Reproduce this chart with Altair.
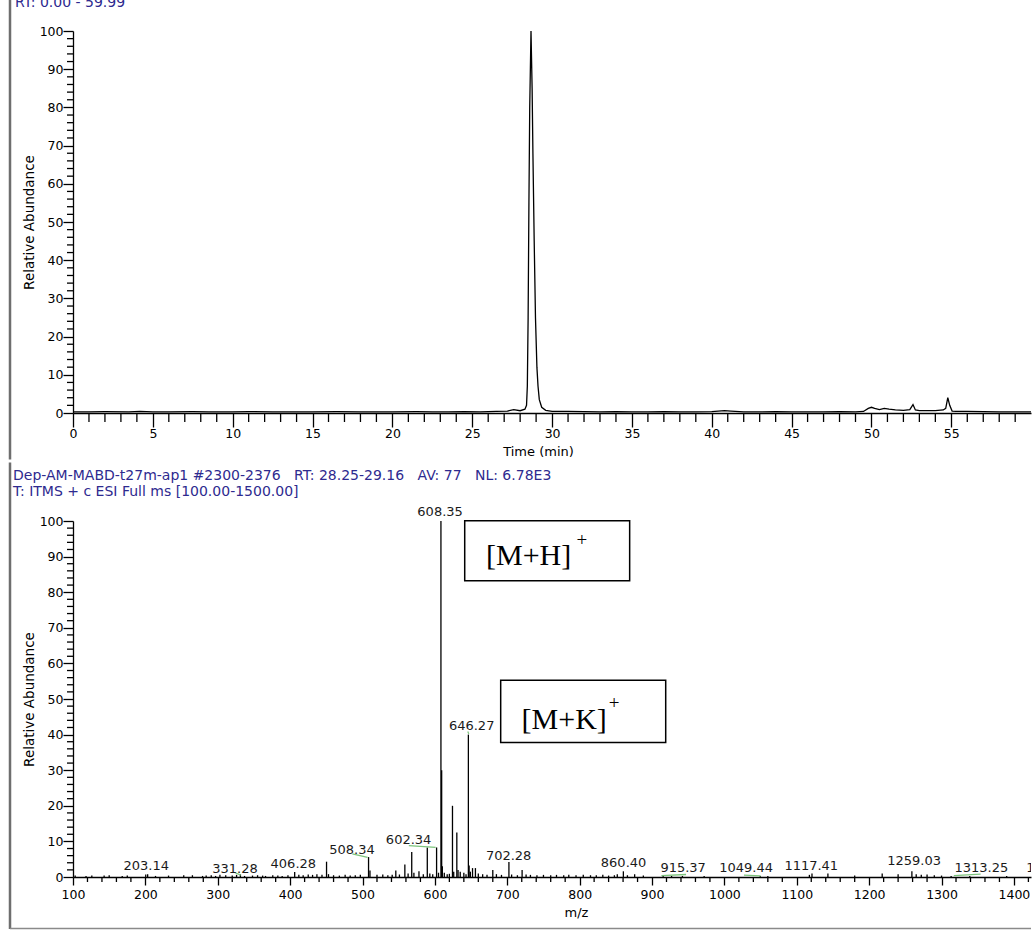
import altair as alt
import pandas as pd

# ---------------- Chromatogram (top panel) ----------------
rt_time = [0, 1.0, 2.0, 3.5, 4.2, 5, 6, 7.5, 8.5, 10, 11, 12.5, 14, 15, 16.5, 18, 19, 20,
           21.5, 22.5, 23.5, 24.5, 25.5, 26.5, 27.2, 27.6, 28.0, 28.3, 28.4, 28.45, 28.5,
           28.55, 28.6, 28.68, 28.75, 28.8, 28.88, 28.96, 29.05, 29.12, 29.2, 29.35, 29.6,
           30.0, 31, 32, 33, 34, 35, 36, 37, 38, 39, 40, 40.8, 41.2, 42, 43, 44, 45, 46, 47,
           48, 49, 49.5, 49.8, 50.0, 50.2, 50.5, 50.8, 51.1, 51.5, 52, 52.4, 52.6, 52.75,
           53, 53.5, 54, 54.5, 54.65, 54.78, 54.9, 55.05, 55.3, 56, 57, 58, 59, 59.99]
rt_abund = [0.3, 0.3, 0.35, 0.3, 0.4, 0.3, 0.3, 0.35, 0.3, 0.3, 0.35, 0.3, 0.3, 0.3, 0.35,
            0.3, 0.3, 0.3, 0.35, 0.3, 0.3, 0.35, 0.3, 0.4, 0.5, 0.9, 0.6, 1.0, 2.0, 7.0, 25,
            55, 80, 100, 85, 68, 45, 25, 12, 7, 3.5, 1.5, 0.7,
            0.45, 0.4, 0.35, 0.3, 0.35, 0.3, 0.3, 0.35, 0.3, 0.3, 0.35, 0.6, 0.5, 0.3, 0.3,
            0.35, 0.3, 0.3, 0.3, 0.35, 0.3, 0.4, 1.2, 1.5, 1.2, 0.9, 1.2, 1.0, 0.8, 0.7,
            0.9, 2.2, 0.8, 0.6, 0.6, 0.6, 0.8, 1.2, 4.0, 2.0, 0.5, 0.4, 0.4, 0.35, 0.3, 0.3,
            0.3]
rt_major_ticks = [0, 5, 10, 15, 20, 25, 30, 35, 40, 45, 50, 55]
rt_minor_ticks = [t for t in range(0, 60) if t % 5 != 0]
abund_major_ticks = [0, 10, 20, 30, 40, 50, 60, 70, 80, 90, 100]
abund_minor_ticks = [a for a in range(0, 101, 2) if a % 10 != 0]

# ---------------- Mass spectrum (bottom panel) ----------------
ms_mz = [103, 118, 126, 143, 150, 168, 175, 200.5, 203.14, 214, 232, 253, 265, 279, 284,
         291, 297, 303, 311, 320, 326, 331.28, 337, 348, 355, 362, 366, 376, 383, 389, 397,
         406.28, 412, 418, 425, 431, 437, 444, 450.3, 453, 460, 468, 476, 483, 490, 497,
         508.34, 510.3, 520, 528, 535, 541, 546, 551, 558.5, 563, 568, 571, 578, 584, 589.5,
         593, 597, 602.34, 605, 608.35, 609.35, 610.3, 613, 617, 620, 624.3, 626, 630.3,
         632, 635, 640, 643, 646.27, 647.3, 649, 652, 656, 660, 666, 672, 680, 685, 692,
         702.28, 706, 714, 720.5, 726, 732, 741, 750, 760, 768, 778, 785, 795, 805, 815,
         823, 832, 840, 848, 852, 860.40, 866, 876, 888, 915.37, 927, 942, 972, 1049.44,
         1060, 1117.41, 1121, 1143, 1180, 1218, 1240, 1259.03, 1265, 1272, 1280, 1290,
         1300, 1313.25, 1339, 1390]
ms_abund = [0.4, 0.3, 0.4, 0.4, 0.5, 0.3, 0.4, 0.7, 0.8, 0.3, 0.4, 0.5, 0.5, 0.3, 0.4,
            0.5, 0.3, 0.6, 0.5, 0.4, 0.6, 0.8, 0.3, 0.4, 0.5, 0.4, 0.3, 0.5, 0.4, 0.3, 0.5,
            1.4, 0.6, 0.5, 0.7, 0.6, 0.8, 0.6, 4.3, 0.8, 0.5, 0.4, 0.6, 0.4, 0.5, 0.6,
            5.6, 1.8, 0.6, 0.7, 0.5, 0.6, 1.8, 0.7, 3.5, 1.0, 7.0, 1.2, 1.6, 0.8, 8.3,
            1.0, 0.8, 8.3, 1.2, 100, 30, 3.0, 1.2, 0.8, 0.9, 20, 1.5, 12.5,
            2.0, 1.5, 1.2, 0.8, 40, 3.2, 1.5, 2.5, 2.5, 1.0, 0.8, 0.6, 2.0, 0.8, 0.6,
            4.2, 0.7, 0.5, 2.0, 0.7, 0.6, 0.5, 0.6, 0.5, 0.6, 0.5, 0.6, 0.5, 0.6, 0.5,
            0.5, 0.6, 0.4, 0.5, 0.8, 1.6, 0.5, 0.8, 0.4, 0.4, 0.3, 0.3, 0.3, 0.3,
            0.3, 0.6, 1.0, 1.0, 0.4, 1.0, 0.8, 1.6, 0.8, 0.6, 0.7, 0.5,
            0.4, 0.3, 0.3, 0.3]
mz_major_ticks = [100, 200, 300, 400, 500, 600, 700, 800, 900, 1000, 1100, 1200, 1300, 1400]
mz_minor_ticks = [m for m in range(100, 1424, 20) if m % 100 != 0]

peak_labels = ["608.35", "646.27", "602.34", "508.34", "406.28", "331.28", "203.14",
               "702.28", "860.40", "915.37", "1049.44", "1117.41", "1259.03", "1313.25"]
peak_label_mz = [607.2, 650.8, 563.7, 485.5, 404.4, 323.8, 201.2, 701.9, 860.7, 943,
                 1030, 1120, 1262, 1355]
peak_label_abund = [101.5, 41.4, 9.4, 6.6, 2.4, 1.0, 2.1, 4.9, 2.7, 1.5, 1.5, 2.1, 3.5, 1.5]
edge_label = ["1447.30"]
edge_label_mz = [1454]
edge_label_abund = [1.5]

conn_x1 = [323.8, 486, 564, 645.5, 913, 1027, 1317]
conn_y1 = [1.2, 6.5, 8.8, 40.9, 0.4, 0.5, 0.4]
conn_x2 = [332, 507, 601, 646.8, 947, 1050, 1354]
conn_y2 = [0.5, 5.5, 8.3, 40.2, 0.7, 0.3, 0.8]

ion_labels = ["[M+H]", "[M+K]"]
ion_box_mz1 = [641.2, 690.9]
ion_box_mz2 = [869.1, 918.9]
ion_box_ab1 = [100.1, 55.3]
ion_box_ab2 = [83.2, 37.8]
ion_text_mz = [670.6, 719.8]
ion_text_ab = [87.6, 41.6]
ion_sup_mz = [803.0, 847.5]
ion_sup_ab = [93.0, 47.3]

header_top = "RT: 0.00 - 59.99"
SP = "\u00a0\u00a0\u00a0"
header_line1 = "Dep-AM-MABD-t27m-ap1 #2300-2376" + SP + "RT: 28.25-29.16" + SP + "AV: 77" + SP + "NL: 6.78E3"
header_line2 = "T: ITMS + c ESI Full ms [100.00-1500.00]"

# ---------------- styling ----------------
W = 958
H1 = 382
H2 = 356
FONT = "DejaVu Sans"
NAVY = "#2e2a8f"
FRAME = "#6e6e6e"


def axis_x(values, tick, title, title_x, pad):
    return alt.Axis(values=values, format="d", tickSize=tick, tickWidth=1.3,
                    tickColor="black", domainColor="black", domainWidth=1.3, labelFont=FONT,
                    labelFontSize=12.5, labelColor="black", labelPadding=pad,
                    labelFlush=False, labelOverlap=False, title=title, titleFont=FONT,
                    titleFontSize=13, titleFontWeight="normal", titleColor="black",
                    titlePadding=6, titleX=title_x, grid=False)


def axis_y(h):
    return alt.Axis(values=abund_major_ticks, format="d", tickSize=10, tickWidth=1.3,
                    tickColor="black", domainColor="black", domainWidth=1.3, labelFont=FONT,
                    labelFontSize=12.5, labelColor="black", labelPadding=0, labelFlush=False,
                    labelOverlap=False, title="Relative Abundance", titleFont=FONT,
                    titleFontSize=13.5, titleFontWeight="normal", titleColor="black",
                    titleX=-44, titleY=h / 2, titleBaseline="middle", titleAlign="center",
                    grid=False)


one = pd.DataFrame({"k": [0]})

# ---------- top panel ----------
df_rt = pd.DataFrame({"time": rt_time, "abund": rt_abund})
AX_T = axis_x(rt_major_ticks, 14, "Time (min)", 465, 0)
AY_T = axis_y(H1)
XT = dict(scale=alt.Scale(domain=[0, 59.99], nice=False, zero=False), axis=AX_T)
YT = dict(scale=alt.Scale(domain=[0, 100], nice=False), axis=AY_T)

top_line = alt.Chart(df_rt).mark_line(color="black", strokeWidth=1.3, clip=True).encode(
    x=alt.X("time:Q", **XT), y=alt.Y("abund:Q", **YT))
top_minor_x = alt.Chart(pd.DataFrame({"time": rt_minor_ticks})).mark_rule(
    color="black", strokeWidth=1.3).encode(
    x=alt.X("time:Q", **XT), y=alt.value(H1), y2=alt.value(H1 + 9))
top_minor_y = alt.Chart(pd.DataFrame({"abund": abund_minor_ticks})).mark_rule(
    color="black", strokeWidth=1.3).encode(
    y=alt.Y("abund:Q", **YT), x=alt.value(-6), x2=alt.value(0))
top_title = alt.Chart(pd.DataFrame({"s": [header_top]})).mark_text(
    align="left", baseline="alphabetic", font=FONT, fontSize=14, color=NAVY).encode(
    x=alt.value(-58), y=alt.value(-24), text="s:N")
top_frame = alt.Chart(one).mark_rule(color=FRAME, strokeWidth=2.5).encode(
    x=alt.value(-63), y=alt.value(-40), y2=alt.value(428.5))

top = alt.layer(top_line, top_minor_x, top_minor_y, top_title, top_frame).properties(
    width=W, height=H1)

# ---------- bottom panel ----------
df_ms = pd.DataFrame({"mz": ms_mz, "abund": ms_abund})
AX_B = axis_x(mz_major_ticks, 8, "m/z", 503, 3)
AY_B = axis_y(H2)
XB = dict(scale=alt.Scale(domain=[100, 1423.6], nice=False, zero=False), axis=AX_B)
YB = dict(scale=alt.Scale(domain=[0, 100], nice=False), axis=AY_B)

sticks = alt.Chart(df_ms).mark_rule(color="black", strokeWidth=1.3).encode(
    x=alt.X("mz:Q", **XB), y=alt.Y("abund:Q", **YB), y2=alt.datum(0))
bot_minor_x = alt.Chart(pd.DataFrame({"mz": mz_minor_ticks})).mark_rule(
    color="black", strokeWidth=1.3).encode(
    x=alt.X("mz:Q", **XB), y=alt.value(H2), y2=alt.value(H2 + 5))
bot_minor_y = alt.Chart(pd.DataFrame({"abund": abund_minor_ticks})).mark_rule(
    color="black", strokeWidth=1.3).encode(
    y=alt.Y("abund:Q", **YB), x=alt.value(-6), x2=alt.value(0))

connectors = alt.Chart(pd.DataFrame({"mz": conn_x1, "abund": conn_y1, "x2": conn_x2,
                                     "y2": conn_y2})).mark_rule(
    color="#7cc47c", strokeWidth=1.3).encode(
    x=alt.X("mz:Q", **XB), x2="x2:Q", y=alt.Y("abund:Q", **YB), y2="y2:Q")

labels = alt.Chart(pd.DataFrame({"lab": peak_labels, "mz": peak_label_mz,
                                 "abund": peak_label_abund})).mark_text(
    align="center", baseline="alphabetic", font=FONT, fontSize=13, color="#1a1a1a").encode(
    x=alt.X("mz:Q", **XB), y=alt.Y("abund:Q", **YB), text="lab:N")
edge_labels = alt.Chart(pd.DataFrame({"lab": edge_label, "mz": edge_label_mz,
                                      "abund": edge_label_abund})).mark_text(
    align="center", baseline="alphabetic", font=FONT, fontSize=13, color="#1a1a1a",
    clip=True).encode(
    x=alt.X("mz:Q", **XB), y=alt.Y("abund:Q", **YB), text="lab:N")

df_ion = pd.DataFrame({"lab": ion_labels, "mz": ion_box_mz1, "bx2": ion_box_mz2,
                       "abund": ion_box_ab1, "by2": ion_box_ab2})
df_ion_t = pd.DataFrame({"lab": ion_labels, "mz": ion_text_mz, "abund": ion_text_ab})
df_ion_s = pd.DataFrame({"lab": ["+", "+"], "mz": ion_sup_mz, "abund": ion_sup_ab})
boxes = alt.Chart(df_ion).mark_rect(fill="white", stroke="black", strokeWidth=1.5).encode(
    x=alt.X("mz:Q", **XB), x2="bx2:Q", y=alt.Y("abund:Q", **YB), y2="by2:Q")
ion_text = alt.Chart(df_ion_t).mark_text(
    align="left", baseline="alphabetic", font="Liberation Serif", fontSize=30,
    color="black").encode(x=alt.X("mz:Q", **XB), y=alt.Y("abund:Q", **YB), text="lab:N")
ion_sup = alt.Chart(df_ion_s).mark_text(
    align="center", baseline="alphabetic", font="Liberation Serif", fontSize=19,
    color="black").encode(x=alt.X("mz:Q", **XB), y=alt.Y("abund:Q", **YB), text="lab:N")

hdr1 = alt.Chart(pd.DataFrame({"s": [header_line1]})).mark_text(
    align="left", baseline="alphabetic", font=FONT, fontSize=14, color=NAVY).encode(
    x=alt.value(-60), y=alt.value(-41), text="s:N")
hdr2 = alt.Chart(pd.DataFrame({"s": [header_line2]})).mark_text(
    align="left", baseline="alphabetic", font=FONT, fontSize=14, color=NAVY).encode(
    x=alt.value(-60), y=alt.value(-25), text="s:N")
bot_frame = alt.Chart(one).mark_rule(color=FRAME, strokeWidth=2.5).encode(
    x=alt.value(-63), y=alt.value(-58.5), y2=alt.value(408))
bot_frame_h = alt.Chart(one).mark_rule(color="#8a8a8a", strokeWidth=1.5).encode(
    x=alt.value(-63), x2=alt.value(W), y=alt.value(407.5))

bottom = alt.layer(sticks, bot_minor_x, bot_minor_y, connectors, labels, edge_labels,
                   boxes, ion_text, ion_sup, hdr1, hdr2, bot_frame, bot_frame_h).properties(
    width=W, height=H2)

chart = alt.vconcat(top, bottom, spacing=0).properties(
    padding={"left": 8, "top": -11, "right": 0, "bottom": 0},
    background="white",
).configure_view(stroke=None)

chart.save("out.html", embed_options={"renderer": "svg", "actions": False})
